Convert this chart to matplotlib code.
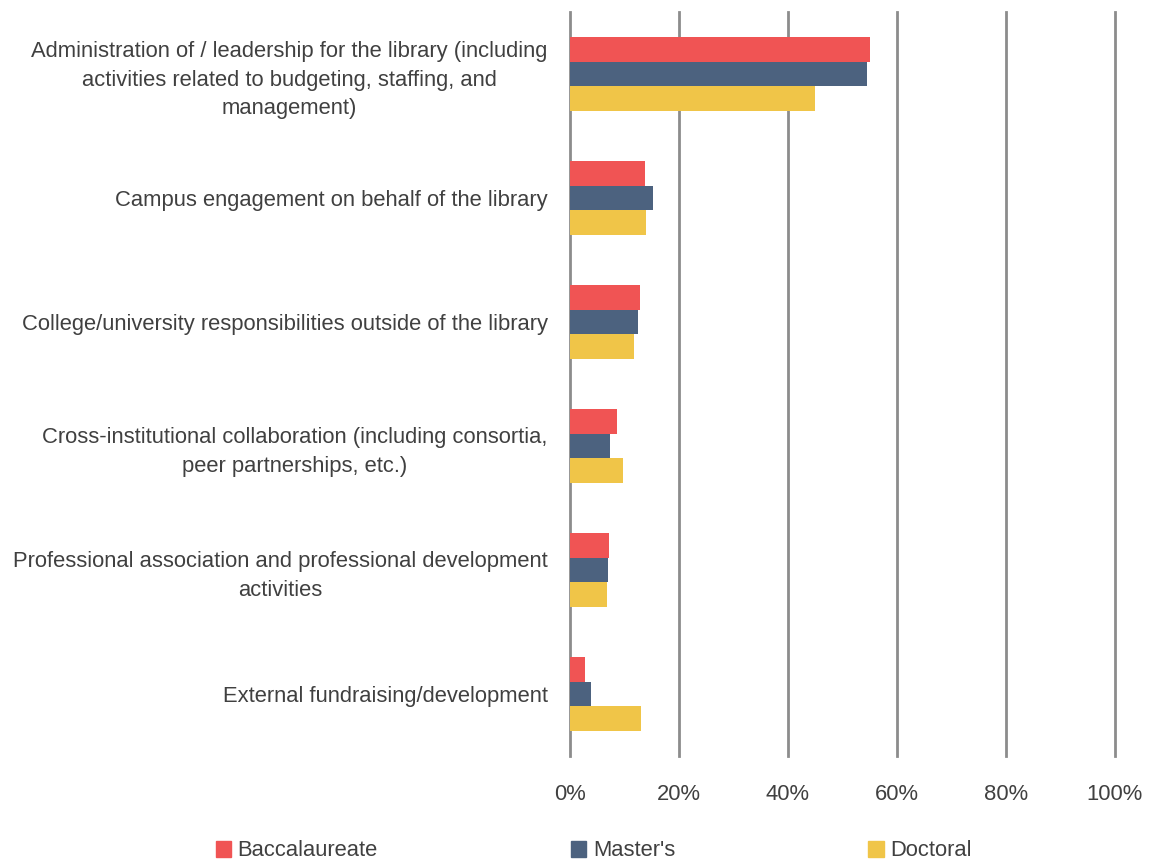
import numpy as np
import matplotlib
matplotlib.use("Agg")
import matplotlib.pyplot as plt
from matplotlib import font_manager
from matplotlib.patches import Patch

categories = [
    "Administration of / leadership for the library (including\nactivities related to budgeting, staffing, and\nmanagement)",
    "Campus engagement on behalf of the library",
    "College/university responsibilities outside of the library",
    "Cross-institutional collaboration (including consortia,\npeer partnerships, etc.)",
    "Professional association and professional development\nactivities",
    "External fundraising/development",
]
series_names = ["Baccalaureate", "Master's", "Doctoral"]
baccalaureate = [55.0, 13.8, 12.8, 8.7, 7.1, 2.8]
masters = [54.5, 15.2, 12.5, 7.4, 7.0, 3.8]
doctoral = [45.0, 13.9, 11.8, 9.7, 6.8, 13.0]
x_ticks = [0, 20, 40, 60, 80, 100]

colors = ["#F05454", "#4C627F", "#F0C548"]

names = {f.name for f in font_manager.fontManager.ttflist}
family = "Liberation Sans Narrow" if "Liberation Sans Narrow" in names else "Liberation Sans"
plt.rcParams["font.family"] = [family, "DejaVu Sans"]
fs = 15.8

fig = plt.figure(figsize=(11.49, 8.61), dpi=100)
ax = fig.add_axes([570 / 1149, 1 - 756 / 861, 545 / 1149, 744 / 861])

y = np.arange(len(categories))
h = 0.2
for i, vals in enumerate([baccalaureate, masters, doctoral]):
    ax.barh(y + (i - 1) * h, vals, height=h, color=colors[i], zorder=3)

ax.set_xlim(0, 100)
ax.set_ylim(len(categories) - 0.5, -0.5)
ax.set_xticks(x_ticks)
ax.set_xticklabels([f"{t}%" for t in x_ticks])
ax.set_yticks(y)
ax.set_yticklabels(categories, multialignment="center", linespacing=1.44)
ax.xaxis.grid(True, color="#8C8C8C", linewidth=2, zorder=0)
for gl in ax.get_xgridlines():
    gl.set_clip_on(False)
ax.tick_params(axis="both", length=0, labelsize=fs, labelcolor="#404040")
ax.tick_params(axis="x", pad=20)
ax.tick_params(axis="y", pad=16)
for s in ax.spines.values():
    s.set_visible(False)

handles = [Patch(color=c, label=n) for c, n in zip(colors, series_names)]
fig.legend(handles=handles, loc="center left", ncol=3, frameon=False,
           bbox_to_anchor=(196 / 1149, 1 - 851 / 861), fontsize=fs,
           handlelength=0.7, handleheight=0.7, handletextpad=0.3,
           columnspacing=8.8, labelcolor="#404040")

fig.savefig("out.png", dpi=100)
